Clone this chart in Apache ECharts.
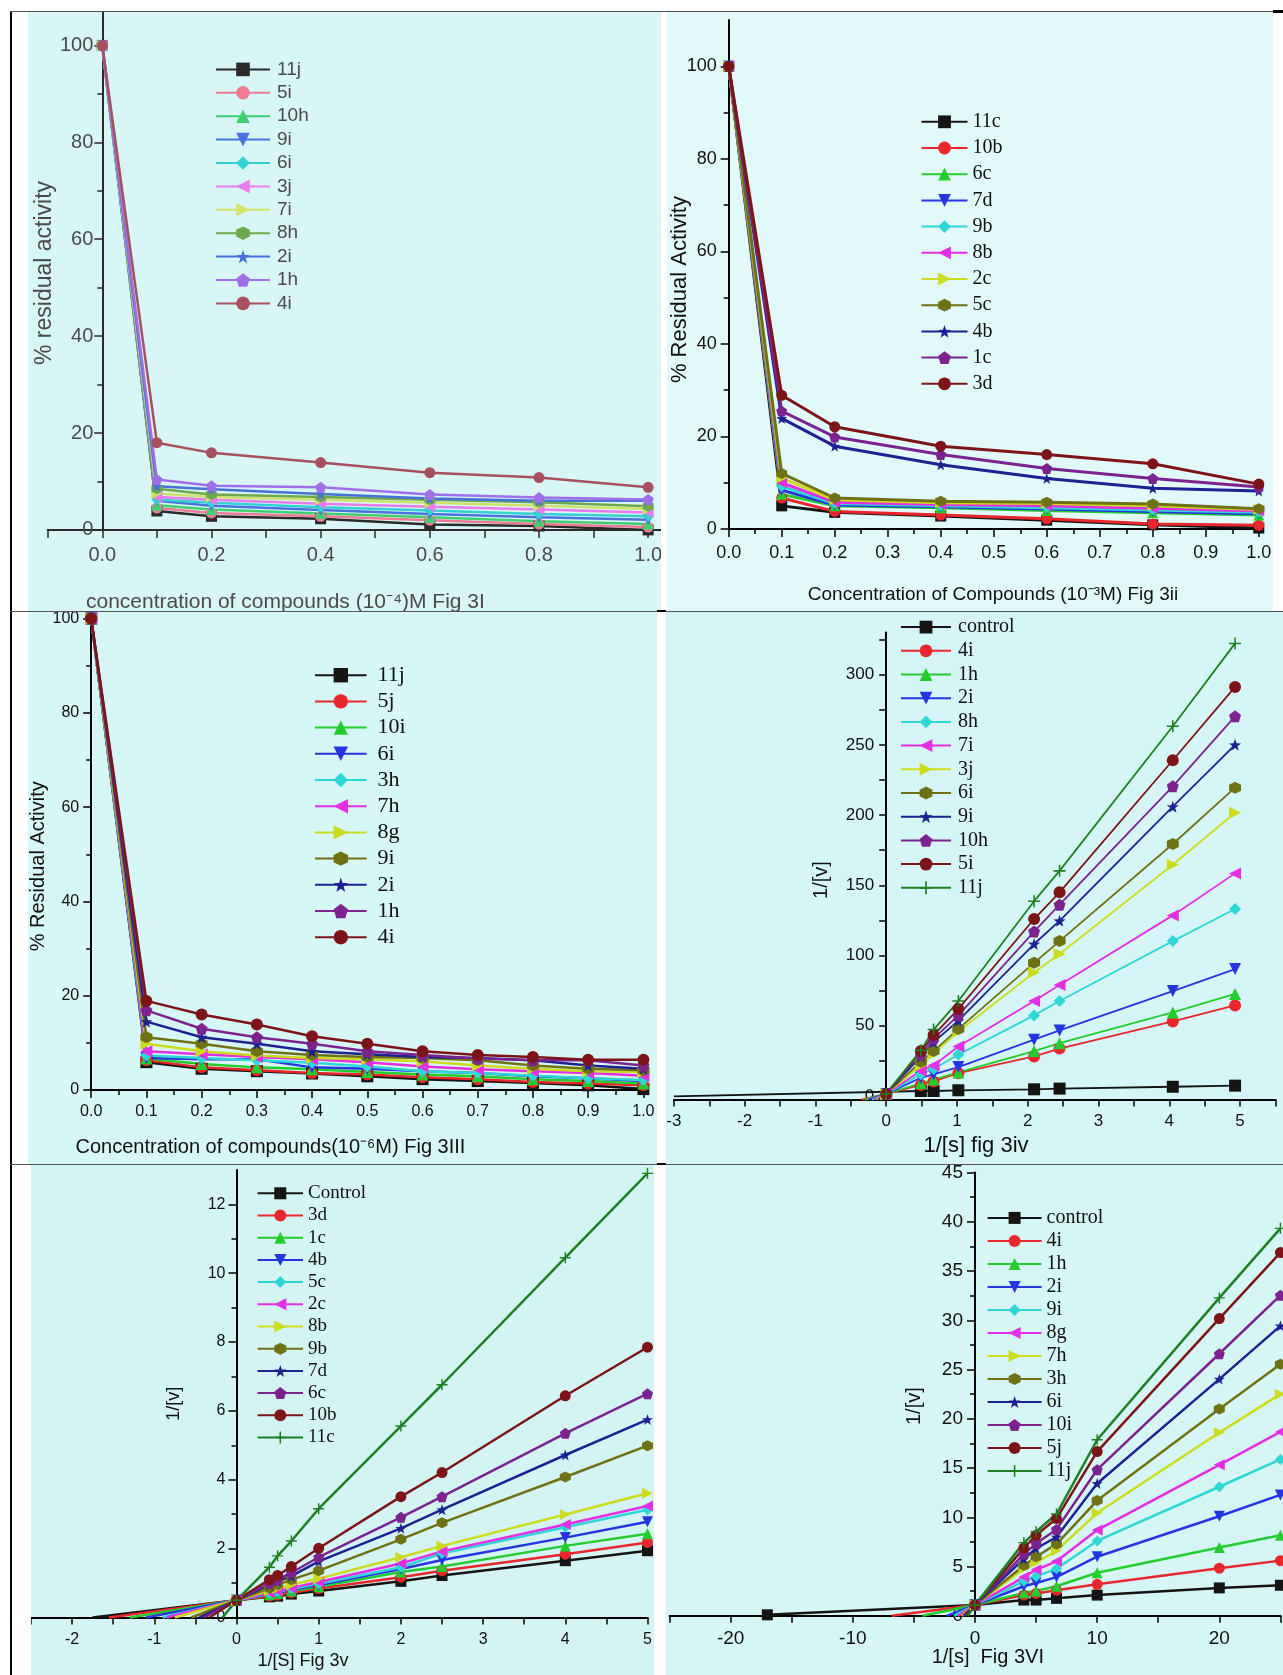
<!DOCTYPE html>
<html><head><meta charset="utf-8">
<script src="https://cdn.jsdelivr.net/npm/echarts@6.0.0/dist/echarts.min.js"></script>
<style>
html,body{margin:0;padding:0;background:#fff;}
body{width:1283px;height:1675px;position:relative;overflow:hidden;}
.p{position:absolute;overflow:hidden;}
.ln{position:absolute;z-index:5;}
</style></head><body>
<div class="p" id="p1" style="left:28px;top:12px;width:633px;height:599px;background:#d9f6f6"></div>
<div class="p" id="p2" style="left:667px;top:12px;width:606px;height:599px;background:#e2f9fa"></div>
<div class="p" id="p3" style="left:28px;top:612px;width:629px;height:552px;background:#d7f6f6"></div>
<div class="p" id="p4" style="left:666px;top:612px;width:617px;height:552px;background:#d6f5f6"></div>
<div class="p" id="p5" style="left:31px;top:1165px;width:623px;height:510px;background:#d4f4f4"></div>
<div class="p" id="p6" style="left:666px;top:1165px;width:617px;height:510px;background:#d6f5f5"></div>
<div class="ln" style="left:10px;top:11px;width:2px;height:1664px;background:#000"></div>
<div class="ln" style="left:10px;top:11px;width:1266px;height:1px;background:#555"></div>
<div class="ln" style="left:1273px;top:10px;width:10px;height:3px;background:#000"></div>
<div class="ln" style="left:10px;top:611px;width:1273px;height:1px;background:#555"></div>
<div class="ln" style="left:657px;top:610px;width:9px;height:2px;background:#000"></div>
<div class="ln" style="left:10px;top:1164px;width:1273px;height:1px;background:#555"></div>
<div class="ln" style="left:657px;top:1163px;width:9px;height:2px;background:#000"></div>
<script>
// ---------- DATA ----------
// Fig 3I
const p1X = [0, 0.1, 0.2, 0.4, 0.6, 0.8, 1.0];
const p1Names = ['11j','5i','10h','9i','6i','3j','7i','8h','2i','1h','4i'];
const p1Y = [
  [100, 3.9, 2.8, 2.3, 1.1, 0.8, 0.0],
  [100, 4.5, 3.5, 2.8, 2.0, 1.2, 0.6],
  [100, 5.1, 4.2, 3.4, 2.6, 1.8, 1.2],
  [100, 6.0, 5.0, 4.1, 3.3, 2.6, 2.1],
  [100, 6.3, 5.6, 4.7, 4.0, 3.3, 2.8],
  [100, 6.8, 6.2, 5.4, 4.8, 4.2, 3.6],
  [100, 7.5, 6.8, 6.2, 5.6, 5.0, 4.3],
  [100, 8.5, 7.3, 6.8, 6.2, 5.7, 4.9],
  [100, 9.0, 8.4, 7.4, 6.5, 6.0, 6.0],
  [100, 10.4, 9.1, 8.8, 7.3, 6.7, 6.3],
  [100, 18.0, 15.9, 13.9, 11.8, 10.8, 8.8]
];
const p1XLabels = [0, 0.2, 0.4, 0.6, 0.8, 1.0];
const p1XTicks = [-0.1, 0, 0.1, 0.2, 0.3, 0.4, 0.5, 0.6, 0.7, 0.8, 0.9, 1.0];
const p1YLabels = [0, 20, 40, 60, 80, 100];

// Fig 3ii
const p2X = [0, 0.1, 0.2, 0.4, 0.6, 0.8, 1.0];
const p2Names = ['11c','10b','6c','7d','9b','8b','2c','5c','4b','1c','3d'];
const p2Y = [
  [100, 5.0, 3.6, 2.8, 1.9, 0.9, 0.2],
  [100, 6.7, 3.8, 3.0, 2.2, 1.1, 0.8],
  [100, 7.5, 5.0, 4.6, 4.0, 3.5, 3.0],
  [100, 8.4, 5.2, 4.8, 4.3, 3.8, 3.3],
  [100, 9.2, 5.5, 5.0, 4.6, 4.1, 3.6],
  [100, 10.0, 5.8, 5.3, 5.0, 4.5, 3.9],
  [100, 11.0, 6.3, 5.7, 5.5, 5.0, 4.2],
  [100, 12.0, 6.7, 6.0, 5.8, 5.4, 4.4],
  [100, 23.9, 17.9, 13.9, 10.9, 8.8, 8.2],
  [100, 25.5, 19.9, 16.1, 13.1, 10.9, 9.1],
  [100, 28.9, 22.1, 17.9, 16.1, 14.1, 9.7]
];
const p2YLabels = [0, 20, 40, 60, 80, 100];

// Fig 3III
const p3X = [0, 0.1, 0.2, 0.3, 0.4, 0.5, 0.6, 0.7, 0.8, 0.9, 1.0];
const p3Names = ['11j','5j','10i','6i','3h','7h','8g','9i','2i','1h','4i'];
const p3Y = [
  [100, 5.9, 4.5, 4.0, 3.5, 2.9, 2.3, 1.9, 1.5, 1.0, 0.2],
  [100, 6.3, 4.8, 4.2, 3.6, 3.3, 2.7, 2.3, 1.7, 1.4, 1.0],
  [100, 6.7, 5.5, 4.8, 4.4, 3.8, 3.3, 2.9, 2.3, 1.9, 1.4],
  [100, 6.8, 6.5, 6.5, 4.8, 4.5, 4.0, 3.6, 2.9, 2.5, 1.9],
  [100, 7.3, 6.8, 6.3, 5.8, 5.0, 4.0, 3.6, 3.0, 2.5, 2.1],
  [100, 8.2, 7.6, 7.0, 6.5, 5.9, 5.0, 4.4, 4.0, 3.6, 3.0],
  [100, 9.8, 8.2, 7.3, 6.8, 6.5, 6.1, 5.2, 4.5, 4.0, 3.8],
  [100, 11.2, 9.8, 8.2, 7.4, 7.0, 6.8, 6.3, 5.2, 4.5, 4.2],
  [100, 14.5, 11.2, 9.8, 8.2, 7.6, 7.0, 6.8, 6.3, 5.2, 4.5],
  [100, 16.9, 13.0, 11.2, 9.8, 8.2, 7.4, 6.7, 6.3, 6.3, 5.2],
  [100, 18.9, 16.0, 13.9, 11.4, 9.8, 8.2, 7.4, 7.0, 6.4, 6.4]
];

// Fig 3iv (Lineweaver-Burk)
const p4X = [0.49, 0.67, 1.02, 2.09, 2.45, 4.05, 4.93];
const p4Names = ['control','4i','1h','2i','8h','7i','3j','6i','9i','10h','5i','11j'];
const p4Y = [
  [3.6, 3.6, 4.1, 4.8, 5.3, 6.6, 7.4],
  [7.9, 10.4, 16.3, 28.2, 33.8, 53.1, 64.5],
  [9.1, 11.7, 16.8, 32.0, 37.6, 59.5, 72.7],
  [13.0, 15.5, 20.6, 40.1, 46.7, 74.7, 90.4],
  [15.5, 19.3, 29.5, 57.4, 67.6, 110.3, 133.1],
  [18.0, 21.8, 35.3, 67.6, 79.0, 128.6, 158.5],
  [21.8, 30.0, 46.0, 87.9, 101.1, 164.6, 201.7],
  [24.4, 32.0, 47.8, 94.8, 110.3, 179.4, 219.5],
  [28.2, 38.4, 53.6, 108.2, 124.7, 206.0, 250.0],
  [30.0, 40.9, 57.4, 117.1, 136.2, 220.5, 270.3],
  [32.0, 43.4, 62.0, 126.0, 145.0, 239.0, 291.2],
  [32.5, 47.3, 67.6, 138.7, 160.3, 263.2, 322.2]
];
const p4StartX = [-3, -0.35, -0.3, -0.25, -0.2, -0.17, -0.14, -0.12, -0.1, -0.09, -0.08, -0.07];
const p4StartY = [-0.3, -2.5, -2.5, -2.5, -2.5, -2.5, -2.5, -2.5, -2.5, -2.5, -2.5, -2.5];
const p4OriginY = 1.5;
const p4XLabels = [-3, -2, -1, 0, 1, 2, 3, 4, 5];
const p4XTicks = [-3, -2.5, -2, -1.5, -1, -0.5, 0, 0.5, 1, 1.5, 2, 2.5, 3, 3.5, 4, 4.5, 5, 5.5];
const p4YLabels = [0, 50, 100, 150, 200, 250, 300];
const p4YTicks = [0, 25, 50, 75, 100, 125, 150, 175, 200, 225, 250, 275, 300, 325];

// Fig 3v
const p5X = [0.4, 0.5, 0.667, 1, 2, 2.5, 4, 5];
const p5Names = ['Control','3d','1c','4b','5c','2c','8b','9b','7d','6c','10b','11c'];
const p5Y = [
  [0.60, 0.62, 0.68, 0.77, 1.05, 1.22, 1.65, 1.94],
  [0.62, 0.65, 0.72, 0.84, 1.17, 1.36, 1.84, 2.18],
  [0.66, 0.70, 0.77, 0.89, 1.32, 1.48, 2.08, 2.43],
  [0.68, 0.72, 0.80, 0.94, 1.41, 1.67, 2.32, 2.78],
  [0.70, 0.75, 0.83, 0.98, 1.46, 1.86, 2.62, 3.13],
  [0.72, 0.77, 0.86, 1.03, 1.57, 1.92, 2.70, 3.24],
  [0.78, 0.85, 0.95, 1.13, 1.75, 2.08, 2.99, 3.61],
  [0.85, 0.95, 1.10, 1.36, 2.27, 2.75, 4.08, 4.99],
  [0.95, 1.05, 1.20, 1.63, 2.59, 3.13, 4.72, 5.75],
  [1.00, 1.10, 1.30, 1.75, 2.91, 3.51, 5.35, 6.50],
  [1.10, 1.22, 1.48, 2.01, 3.51, 4.21, 6.44, 7.85],
  [1.46, 1.79, 2.22, 3.16, 5.56, 6.76, 10.45, 12.9]
];
const p5StartX = [-1.75, -1.55, -1.3, -1.1, -0.9, -0.85, -0.75, -0.55, -0.45, -0.4, -0.33, -0.17];
const p5OriginY = 0.5;
const p5XLabels = [-2, -1, 0, 1, 2, 3, 4, 5];
const p5XTicks = [-2.5, -2, -1.5, -1, -0.5, 0, 0.5, 1, 1.5, 2, 2.5, 3, 3.5, 4, 4.5, 5];
const p5YLabels = [0, 2, 4, 6, 8, 10, 12];

// Fig 3VI
const p6X = [4, 5, 6.67, 10, 20, 25];
const p6Names = ['control','4i','1h','2i','9i','8g','7h','3h','6i','10i','5j','11j'];
const p6Y = [
  [1.6, 1.6, 1.77, 2.1, 2.83, 3.1],
  [2.1, 2.27, 2.6, 3.2, 4.83, 5.6],
  [2.33, 2.53, 3.0, 4.37, 6.93, 8.17],
  [3.0, 3.33, 3.93, 6.0, 10.1, 12.27],
  [3.5, 4.0, 4.77, 7.6, 13.1, 15.87],
  [3.93, 4.67, 5.53, 8.7, 15.33, 18.67],
  [4.77, 5.43, 6.6, 10.43, 18.6, 22.5],
  [5.1, 6.0, 7.27, 11.7, 21.0, 25.53],
  [5.77, 6.83, 8.0, 13.43, 24.03, 29.43],
  [6.27, 7.33, 8.77, 14.83, 26.6, 32.53],
  [6.87, 8.17, 9.87, 16.67, 30.17, 36.87],
  [7.43, 8.53, 10.33, 17.87, 32.27, 39.33]
];
const p6StartX = [-17, -6.8, -4.3, -2.3, -1.7, -1.4, -1.1, -1.0, -0.9, -0.8, -0.7, -0.6];
const p6StartY = [0.1, 0, 0, 0, 0, 0, 0, 0, 0, 0, 0, 0];
const p6OriginY = 1.1;
const p6XLabels = [-20, -10, 0, 10, 20];
const p6XTicks = [-25, -20, -15, -10, -5, 0, 5, 10, 15, 20, 25];

// ---------- STYLE ----------
const SANS = "'Liberation Sans', Arial, sans-serif";
const SERIF = "'Liberation Serif', 'Times New Roman', serif";
const ORIGIN = ['#141414','#e8262b','#25cc2e','#2535e0','#2fd6d6','#e22fe2','#cbdc1e','#6f7214','#1e2190','#7c2390','#7d1518','#1f7f22'];
const PASTEL = ['#2a2a2a','#ec7b93','#3fcf6f','#4a72dc','#33d1d4','#e97ae9','#cfe36a','#6fa84c','#4770d8','#a06fe8','#a7505f'];
const SYMBOLS = {
  square: ['rect', 0], circle: ['circle', 0], up: ['triangle', 0], down: ['triangle', 180],
  diamond: ['diamond', 0], left: ['triangle', 90], right: ['triangle', -90],
  hex: ['path://M0,-10L8.66,-5L8.66,5L0,10L-8.66,5L-8.66,-5Z', 0],
  star: ['path://M0,-10L2.351,-3.236L9.511,-3.09L3.804,1.236L5.878,8.09L0,4L-5.878,8.09L-3.804,1.236L-9.511,-3.09L-2.351,-3.236Z', 0],
  pent: ['path://M0,-10L9.511,-3.09L5.878,8.09L-5.878,8.09L-9.511,-3.09Z', 0],
  ball: ['circle', 0],
  plus: ['path://M-1.3,-10L1.3,-10L1.3,-1.3L10,-1.3L10,1.3L1.3,1.3L1.3,10L-1.3,10L-1.3,1.3L-10,1.3L-10,-1.3L-1.3,-1.3Z', 0]
};
const ORDER = ['square','circle','up','down','diamond','left','right','hex','star','pent','ball','plus'];

function mkSeries(names, pal, dataList, lw, ss) {
  return names.map(function (n, i) {
    const s = SYMBOLS[ORDER[i]];
    return {
      type: 'line', name: n, data: dataList[i], symbol: s[0], symbolRotate: s[1],
      symbolSize: ss, showSymbol: true, showAllSymbol: true, clip: false, animation: false,
      lineStyle: { color: pal[i], width: lw }, itemStyle: { color: pal[i] },
      emphasis: { disabled: true }
    };
  });
}
function xyData(xs, ys) { return xs.map(function (x, i) { return [x, ys[i]]; }); }
function lbData(xs, ys, sx, sy, oy, startSym) {
  const d = [{ value: [sx, sy], symbol: startSym ? undefined : 'none' }];
  if (oy !== null) d.push([0, oy]);
  return d.concat(xyData(xs, ys));
}
function vAxis(o) {
  const lc = o.lc || '#000';
  return {
    type: 'value', min: o.min, max: o.max, interval: o.interval, offset: o.offset || 0,
    axisLine: { show: true, onZero: o.onZero !== false, lineStyle: { color: lc, width: 2 } },
    axisTick: { show: true, inside: false, length: o.tl || 8, customValues: o.ticks, lineStyle: { color: lc, width: 1.5 } },
    minorTick: { show: !!o.minor, splitNumber: 2, length: 5, lineStyle: { color: lc, width: 1.5 } },
    axisLabel: { show: true, customValues: o.labels, margin: o.margin, fontSize: o.fs, fontFamily: SANS, color: o.tc || '#111', formatter: o.fmt },
    splitLine: { show: false }, minorSplitLine: { show: false },
    name: o.name || '', nameLocation: 'middle', nameGap: o.gap || 0, nameMoveOverlap: false,
    nameTextStyle: { fontSize: o.nfs || 18, fontFamily: SANS, color: o.tc || '#111', padding: o.npad || 0 }
  };
}
// y axis placed at x = 0 of the x scale (shifted inside the grid)
function zeroOffset(xmin, xmax, width) { return -(0 - xmin) / (xmax - xmin) * width; }
function mkLegend(names, o) {
  return {
    data: names, orient: 'vertical', left: o.left, top: o.top, itemWidth: o.iw, itemHeight: o.ih || 14,
    itemGap: o.gap, padding: 0, selectedMode: false,
    textStyle: { fontFamily: o.ff, fontSize: o.fs, color: o.tc || '#111', padding: [0, 0, 0, o.tp || 0] }
  };
}
function caption(text, x, y, fs, align, color) {
  return { type: 'text', x: x, y: y, z: 10, silent: true,
    style: { text: text, fontSize: fs, fontFamily: SANS, fill: color || '#111',
      align: align, textAlign: align, verticalAlign: 'middle', textVerticalAlign: 'middle' } };
}
function draw(id, opt) {
  const el = document.getElementById(id);
  const c = echarts.init(el, null, { renderer: 'canvas', width: el.clientWidth, height: el.clientHeight });
  opt.animation = false;
  opt.backgroundColor = 'transparent';
  c.setOption(opt);
}
const f1 = function (v) { return (Math.round(v * 10) / 10).toFixed(1); };

// ---------- PANEL 1 ----------
draw('p1', {
  grid: { left: 19.7, top: 0, width: 614.1, height: 517.9, outerBoundsMode: 'none' },
  xAxis: vAxis({ min: -0.1, max: 1.025, interval: 0.1, labels: p1XLabels, ticks: p1XTicks, margin: 16, fs: 20, fmt: f1, tc: '#4a4a4a', lc: '#2a2a2a' }),
  yAxis: vAxis({ min: 0, max: 106.9, interval: 20, labels: p1YLabels, ticks: p1YLabels, minor: true, margin: 9, fs: 20, tc: '#4a4a4a', lc: '#2a2a2a',
    onZero: false, offset: zeroOffset(-0.1, 1.025, 614.1),
    name: '% residual activity', gap: 46, nfs: 23, npad: [0, 4, 0, 0] }),
  legend: mkLegend(p1Names, { left: 187, top: 47.9, iw: 54, ih: 17, gap: 4.4, ff: SANS, fs: 19, tc: '#4a4a4a', tp: 2 }),
  series: mkSeries(p1Names, PASTEL, p1Y.map(function (y) { return xyData(p1X, y); }), 2.5, 11),
  graphic: [caption('concentration of compounds (10\u207B\u2074)M Fig 3I', 58, 590, 21, 'left', '#4a4a4a')]
});

// ---------- PANEL 2 ----------
draw('p2', {
  grid: { left: 61.7, top: 8.1, width: 530.1, height: 508.9, outerBoundsMode: 'none' },
  xAxis: vAxis({ min: 0, max: 1, interval: 0.1, minor: true, margin: 15, fs: 18, fmt: f1 }),
  yAxis: vAxis({ min: 0, max: 110, interval: 20, labels: p2YLabels, ticks: p2YLabels, minor: true, margin: 12, fs: 18,
    name: '% Residual Activity', gap: 37.7, nfs: 22, npad: [0, 30, 0, 0] }),
  legend: mkLegend(p2Names, { left: 253.5, top: 99.8, iw: 46, ih: 16, gap: 6.2, ff: SERIF, fs: 20 }),
  series: mkSeries(p2Names, ORIGIN, p2Y.map(function (y) { return xyData(p2X, y); }), 3, 11),
  graphic: [caption('Concentration of Compounds (10\u207B\u00B3M) Fig 3ii', 326, 583, 19, 'center')]
});

// ---------- PANEL 3 ----------
draw('p3', {
  grid: { left: 63.2, top: 6.6, width: 552.2, height: 471.4, outerBoundsMode: 'none' },
  xAxis: vAxis({ min: 0, max: 1, interval: 0.1, minor: true, margin: 14, fs: 16, fmt: f1 }),
  yAxis: vAxis({ min: 0, max: 100, interval: 20, minor: true, margin: 12, fs: 16,
    name: '% Residual Activity', gap: 43, nfs: 20, npad: [0, 24, 0, 0] }),
  legend: mkLegend(p3Names, { left: 286, top: 52.2, iw: 51.6, ih: 18, gap: 4.2, ff: SERIF, fs: 22, tp: 6 }),
  series: mkSeries(p3Names, ORIGIN, p3Y.map(function (y) { return xyData(p3X, y); }), 2.5, 12),
  graphic: [caption('Concentration of compounds(10\u207B\u2076M) Fig 3III', 47.5, 535, 20, 'left')]
});

// ---------- PANEL 4 ----------
draw('p4', {
  grid: { left: 7.9, top: 20.45, width: 601.5, height: 467.1, outerBoundsMode: 'none' },
  xAxis: vAxis({ min: -3, max: 5.5, interval: 0.5, labels: p4XLabels, ticks: p4XTicks, onZero: false, margin: 13, fs: 17, tl: 7 }),
  yAxis: vAxis({ min: -2.5, max: 330, interval: 2.5, labels: p4YLabels, ticks: p4YTicks, margin: 12, fs: 17, tl: 7,
    onZero: false, offset: zeroOffset(-3, 5.5, 601.5),
    name: '1/[v]', gap: 54.7, nfs: 20, npad: [0, 28, 0, 0] }),
  legend: mkLegend(p4Names, { left: 234, top: 5.1, iw: 50, ih: 16, gap: 3.7, ff: SERIF, fs: 20, tp: 2 }),
  series: mkSeries(p4Names, ORIGIN, p4Y.map(function (y, i) {
    return lbData(p4X, y, p4StartX[i], p4StartY[i], i === 0 ? null : p4OriginY, false);
  }), 1.8, 12),
  graphic: [caption('1/[s] fig 3iv', 310, 534, 22, 'center')]
});

// ---------- PANEL 5 ----------
draw('p5', {
  grid: { left: 0, top: 4.9, width: 616.5, height: 447.6, outerBoundsMode: 'none' },
  xAxis: vAxis({ min: -2.5, max: 5, interval: 0.5, labels: p5XLabels, ticks: p5XTicks, margin: 14, fs: 16, tl: 7 }),
  yAxis: vAxis({ min: 0, max: 13, interval: 2, labels: p5YLabels, ticks: p5YLabels, minor: true, margin: 11, fs: 16,
    onZero: false, offset: zeroOffset(-2.5, 5, 616.5),
    name: '1/[v]', gap: 53.6, nfs: 18, npad: [0, 20, 0, 0] }),
  legend: mkLegend(p5Names, { left: 225.6, top: 18.8, iw: 45.4, ih: 15, gap: 3.2, ff: SERIF, fs: 19 }),
  series: mkSeries(p5Names, ORIGIN, p5Y.map(function (y, i) {
    return lbData(p5X, y, p5StartX[i], 0, p5OriginY, false);
  }), 2.5, 11),
  graphic: [caption('1/[S] Fig 3v', 272, 496, 18, 'center')]
});

// ---------- PANEL 6 ----------
draw('p6', {
  grid: { left: 3.6, top: 7.5, width: 610.8, height: 443.3, outerBoundsMode: 'none' },
  xAxis: vAxis({ min: -25, max: 25, interval: 5, labels: p6XLabels, ticks: p6XTicks, margin: 13, fs: 19, tl: 7 }),
  yAxis: vAxis({ min: 0, max: 45, interval: 5, minor: true, margin: 12, fs: 19,
    onZero: false, offset: zeroOffset(-25, 25, 610.8),
    name: '1/[v]', gap: 51, nfs: 20, npad: [0, 24, 0, 0] }),
  legend: mkLegend(p6Names, { left: 320.6, top: 42.9, iw: 54, ih: 15, gap: 3, ff: SERIF, fs: 20 }),
  series: mkSeries(p6Names, ORIGIN, p6Y.map(function (y, i) {
    return lbData(p6X, y, p6StartX[i], p6StartY[i], p6OriginY, i === 0);
  }), 2.5, 11),
  graphic: [caption('1/[s]  Fig 3VI', 321.8, 492.5, 20, 'center')]
});
</script>
</body></html>
